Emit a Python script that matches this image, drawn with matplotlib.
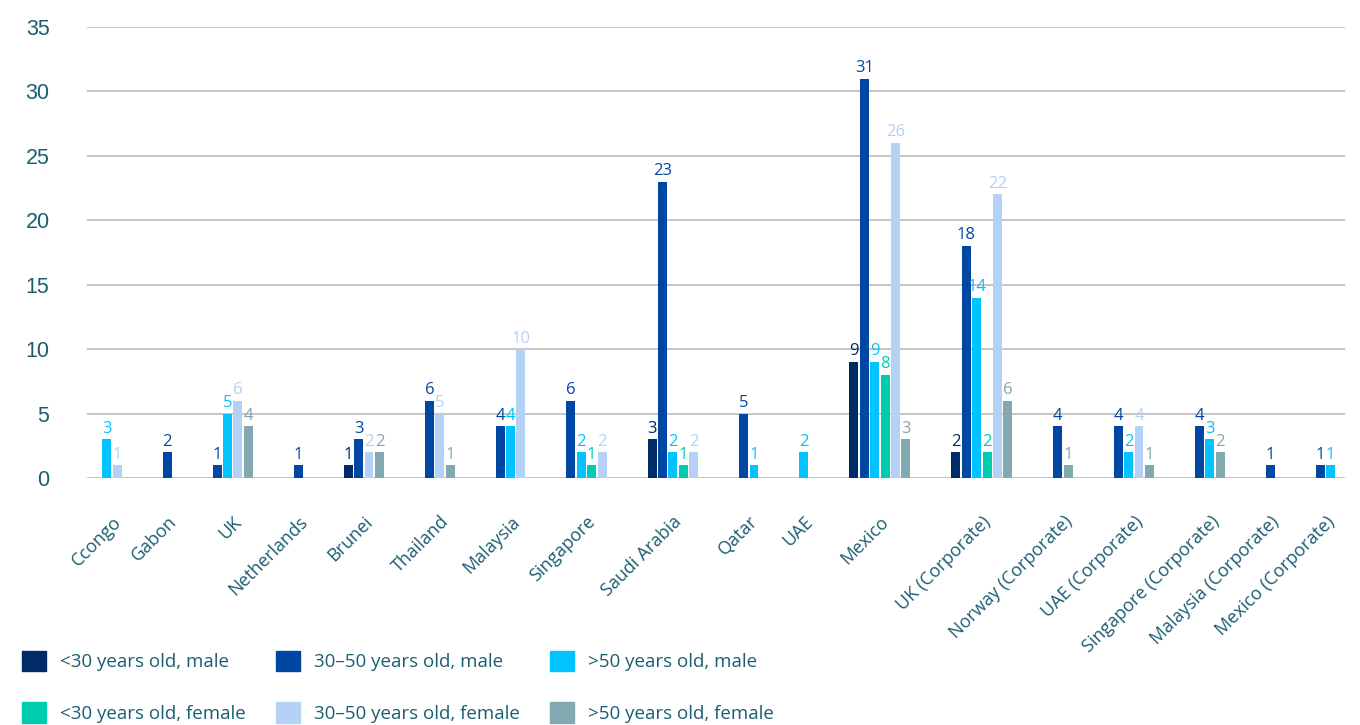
import numpy as np
import matplotlib
matplotlib.use('Agg')
import matplotlib.pyplot as plt
from matplotlib.patches import Patch

categories = ['Ccongo', 'Gabon', 'UK', 'Netherlands', 'Brunei', 'Thailand', 'Malaysia',
              'Singapore', 'Saudi Arabia', 'Qatar', 'UAE', 'Mexico', 'UK (Corporate)',
              'Norway (Corporate)', 'UAE (Corporate)', 'Singapore (Corporate)',
              'Malaysia (Corporate)', 'Mexico (Corporate)']

# 0 = no bar drawn for that group
male_u30 = [0, 0, 0, 0, 1, 0, 0, 0, 3, 0, 0, 9, 2, 0, 0, 0, 0, 0]
male_30_50 = [0, 2, 1, 1, 3, 6, 4, 6, 23, 5, 0, 31, 18, 4, 4, 4, 1, 1]
male_o50 = [3, 0, 5, 0, 0, 0, 4, 2, 2, 1, 2, 9, 14, 0, 2, 3, 0, 1]
female_u30 = [0, 0, 0, 0, 0, 0, 0, 1, 1, 0, 0, 8, 2, 0, 0, 0, 0, 0]
female_30_50 = [1, 0, 6, 0, 2, 5, 10, 2, 2, 0, 0, 26, 22, 0, 4, 0, 0, 0]
female_o50 = [0, 0, 4, 0, 2, 1, 0, 0, 0, 0, 0, 3, 6, 1, 1, 2, 0, 0]

series_names = ['<30 years old, male', '30–50 years old, male', '>50 years old, male',
                '<30 years old, female', '30–50 years old, female', '>50 years old, female']
series = [male_u30, male_30_50, male_o50, female_u30, female_30_50, female_o50]
colors = ['#002b66', '#0047a3', '#00c3ff', '#00cdb0', '#b3d2f5', '#82a8b0']

text_col = '#1b5e72'
font = 'Open Sans'
fig = plt.figure(figsize=(13.6, 7.25), dpi=100)
ax = fig.add_axes([0.064, 0.3407, 0.925, 0.6221])

vals = np.array(series)
counts = (vals > 0).sum(axis=0)
gap = 3.8
centers = np.zeros(len(categories))
for i in range(1, len(categories)):
    centers[i] = centers[i - 1] + (counts[i - 1] + counts[i]) / 2 + gap

for i in range(len(categories)):
    present = [s for s in range(len(series)) if vals[s, i] > 0]
    for k, s in enumerate(present):
        x = centers[i] + k - (len(present) - 1) / 2
        v = vals[s, i]
        ax.bar(x, v, width=0.86, color=colors[s], zorder=3)
        ax.text(x, v + 0.2, str(v), ha='center', va='bottom', color=colors[s],
                fontsize=12, family=font, zorder=4)

ax.set_ylim(0, 35)
ax.set_xlim(centers[0] - 2.4, centers[-1] + 1.9)
ax.set_yticks(range(0, 36, 5))
ax.yaxis.grid(True, color='#c0c0c0', lw=1.3, zorder=0)
for sp in ax.spines.values():
    sp.set_visible(False)
ax.tick_params(axis='y', length=0, pad=27, labelsize=15.5, labelcolor=text_col)
for t in ax.get_yticklabels():
    t.set_family('Liberation Sans')
ax.set_xticks(centers)
ax.set_xticklabels(categories, rotation=45, ha='right', rotation_mode='anchor',
                   fontsize=13, color=text_col, family=font)
ax.tick_params(axis='x', length=0, pad=25)

order = [0, 3, 1, 4, 2, 5]
handles = [Patch(color=colors[s]) for s in order]
labels = [series_names[s] for s in order]
fig.legend(handles, labels, ncol=3, loc='upper left', bbox_to_anchor=(0.016, 0.102),
           frameon=False, handlelength=1.28, handleheight=1.28,
           handletextpad=0.75, columnspacing=1.6, labelspacing=1.65, borderpad=0,
           borderaxespad=0, labelcolor=text_col, prop={'family': font, 'size': 13.5})

fig.savefig('out.png', dpi=100)
